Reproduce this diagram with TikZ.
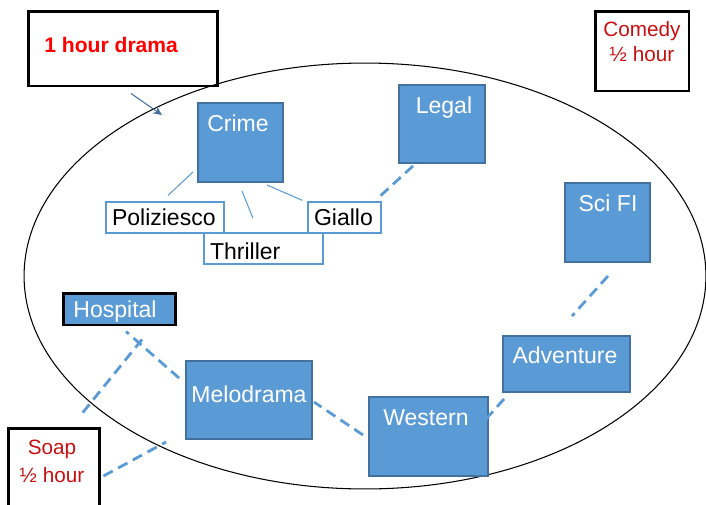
\documentclass[tikz,border=0pt]{standalone}
\usepackage{fontspec}
\setmainfont{Liberation Sans}
\usepackage{xcolor}
\definecolor{azulG}{RGB}{91,155,213}
\definecolor{azulB}{RGB}{65,113,156}
\definecolor{vermelho}{RGB}{255,0,0}
\definecolor{vermEsc}{RGB}{200,16,16}
\usepackage{tikz}
\usetikzlibrary{arrows.meta,positioning,calc}

\begin{document}
\begin{tikzpicture}[x=0.02cm, y=-0.02cm,
    caixaG/.style={draw=azulB, fill=azulG, line width=1.1pt},
    caixaP/.style={draw=black, line width=1.7pt},
    rotulo/.style={font=\fontsize{13.1}{15}\selectfont, inner sep=0pt},
    subg/.style={draw=azulG, line width=0.7pt, minimum height=0.62cm,
      inner xsep=0.12cm, inner ysep=0pt, align=left,
      font=\fontsize{13.1}{15}\selectfont},
    ramo/.style={draw=azulG, line width=0.6pt},
    ligacao/.style={draw=azulG, line width=1.6pt, dash pattern=on 6pt off 3.5pt}]
  \useasboundingbox (0,0) rectangle (706,504);
  % elipse dos dramas
  \draw[line width=0.6pt] (365,276) ellipse [x radius=6.82cm, y radius=4.26cm];

  % generos
  \foreach \nome/\txt/\cx/\cy/\w/\h/\tx/\ty in {
    crime/Crime/240.5/142.5/1.70/1.58/238/131,
    legal/Legal/442/124/1.72/1.56/444/113,
    scifi/Sci FI/607.5/222.5/1.70/1.58/608/211,
    adventure/Adventure/566.5/364/2.54/1.12/565/363,
    western/Western/428.5/436.5/2.38/1.58/426/425,
    melodrama/Melodrama/249/400/2.52/1.56/249/402%
  }{
    \node[caixaG, minimum width=\w cm, minimum height=\h cm] (\nome) at (\cx,\cy) {};
    \node[rotulo, text=white, anchor=base] (\nome-t) at (\tx,\ty) {\txt};
  }
  \node[caixaP, fill=azulG, minimum width=2.26cm, minimum height=0.64cm] (hospital) at (119.5,309) {};
  \node[rotulo, text=white, anchor=base] (hospital-t) at (115,317) {Hospital};

  % sub-generos do crime
  \node[subg, text width=2.12cm] (poliz) at (165,217.5) {Poliziesco};
  \node[subg, text width=1.22cm] (giallo) at (344.5,217.5) {Giallo};
  \node[subg, text width=2.14cm, text height=0.45cm] (thriller) at (263.5,248.5) {Thriller};
  \draw[ramo] ($(crime.south west)+(-4,-11)$) -- ($(poliz.north)+(3,-6)$);
  \draw[ramo] ($(crime.south)+(1.5,8)$) -- ($(thriller.north)+(-10.5,-14)$);
  \draw[ramo] ($(crime.south east)+(-17,2)$) -- ($(giallo.north west)+(-5,-1)$);

  % duracoes
  \node[caixaP, minimum width=3.80cm, minimum height=1.50cm] (drama) at (123,48.5) {};
  \node[font=\fontsize{12}{14}\selectfont\bfseries, text=vermelho, anchor=base west,
    inner sep=0pt] (drama-t) at (44,52) {1 hour drama};
  \node[caixaP, minimum width=1.88cm, minimum height=1.60cm] (comedy) at (642,51) {};
  \node[font=\fontsize{11.8}{14.2}\selectfont, text=vermEsc, align=center,
    inner sep=0pt] (comedy-t) at (642,42) {Comedy\\½ hour};
  \node[caixaP, minimum width=1.84cm, minimum height=1.84cm] (soap) at (54,474) {};
  \node[font=\fontsize{11.8}{15.9}\selectfont, text=vermEsc, align=center,
    inner sep=0pt] (soap-t) at (52,461) {Soap\\½ hour};

  \coordinate (ponta) at (162,115);
  \draw[azulB, line width=0.6pt, -{Stealth[length=5pt, width=4.5pt]}]
    ($(drama.south)+(8,6)$) -- (ponta);

  % ligacoes tracejadas
  \draw[ligacao] ($(legal.south west)+(15,2)$) -- ($(giallo.north east)+(-4,-3)$);
  \draw[ligacao] ($(scifi.south)+(0.5,13)$) -- ($(adventure.north)+(5.5,-19)$);
  \draw[ligacao] ($(adventure.south west)+(2,6)$) -- ($(western.north east)+(-21,43)$);
  \draw[ligacao] ($(western.west)+(-5,-1.5)$) -- ($(melodrama.east)+(1,2)$);
  \draw[ligacao] ($(melodrama.north west)+(-6,18)$) -- ($(hospital.south)+(6.5,5)$);
  \draw[ligacao] ($(hospital.south)+(22.5,13)$) -- ($(soap.north)+(28,-13)$);
  \draw[ligacao] ($(soap.east)+(2,2)$) -- ($(melodrama.south west)+(-19,2)$);
\end{tikzpicture}
\end{document}
